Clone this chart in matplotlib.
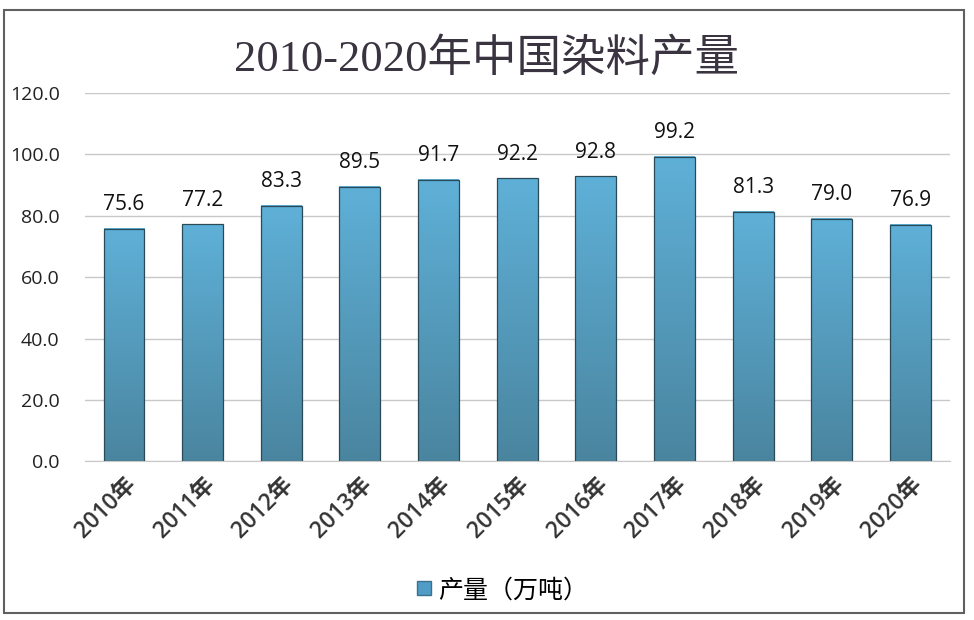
import numpy as np
import matplotlib
matplotlib.use("Agg")
import matplotlib.pyplot as plt
from matplotlib.colors import LinearSegmentedColormap
from matplotlib.patches import Rectangle
from matplotlib.lines import Line2D

plt.rcParams['font.family'] = ['Open Sans', 'Noto Sans CJK SC', 'DejaVu Sans']

years = ['2010年', '2011年', '2012年', '2013年', '2014年', '2015年',
         '2016年', '2017年', '2018年', '2019年', '2020年']
values = [75.6, 77.2, 83.3, 89.5, 91.7, 92.2, 92.8, 99.2, 81.3, 79.0, 76.9]
yticks = [0, 20, 40, 60, 80, 100, 120]
title = '2010-2020年中国染料产量'
legend_label = '产量（万吨）'

fig = plt.figure(figsize=(9.74, 6.2), dpi=100)
fig.patch.set_facecolor('white')
ax = fig.add_axes([0.087, 0.256, 0.888, 0.594])

x = np.arange(len(years))
bars = ax.bar(x, values, width=0.52, color='none', edgecolor='#2a4a58',
              linewidth=0.9, zorder=3)

cmap = LinearSegmentedColormap.from_list('g', ['#4a859f', '#5fb0d8'])
grad = np.linspace(0, 1, 256).reshape(-1, 1)
for b in bars:
    x0, w, h = b.get_x(), b.get_width(), b.get_height()
    ax.imshow(grad, cmap=cmap, origin='lower', aspect='auto',
              extent=[x0, x0 + w, 0, h], zorder=2)

for xi, v in zip(x, values):
    ax.text(xi, v + 4.5, f'{v:.1f}', ha='center', va='bottom',
            fontsize=15, color='#111111')

ax.set_xlim(-0.5, len(years) - 0.5)
ax.set_ylim(0, 120)
ax.set_yticks(yticks)
ax.set_yticklabels([f'{t:.1f}' for t in yticks], fontsize=14, color='#222222')
ax.set_xticks(x)
ax.set_xticklabels(years, rotation=45, ha='right', rotation_mode='anchor',
                   fontsize=16.5, color='#333333', fontweight='semibold')
ax.tick_params(axis='y', length=0, pad=18)
ax.tick_params(axis='x', length=0, pad=8)
ax.yaxis.grid(True, color='#c8c8c8', linewidth=1.0, zorder=0)
ax.set_axisbelow(True)
for s in ['left', 'right', 'top']:
    ax.spines[s].set_visible(False)
ax.spines['bottom'].set_color('#c8c8c8')

fig.text(0.50, 0.905, title, ha='center', va='center', fontsize=32,
         color='#3a3340', family=['Liberation Serif', 'Noto Sans CJK SC'])

handle = Line2D([], [], marker='s', linestyle='none', markersize=10,
                markerfacecolor='#4f9cc6', markeredgecolor='#3a7090')
fig.legend([handle], [legend_label], loc='center', bbox_to_anchor=(0.515, 0.048),
           frameon=False, handlelength=0.7, handletextpad=0.2,
           prop={'family': ['Noto Sans CJK SC', 'DejaVu Sans'], 'size': 18})

fig.patches.append(Rectangle((0.004, 0.012), 0.986, 0.972, transform=fig.transFigure,
                             fill=False, edgecolor='#606060', linewidth=1.5))

fig.savefig('out.png', dpi=100)
